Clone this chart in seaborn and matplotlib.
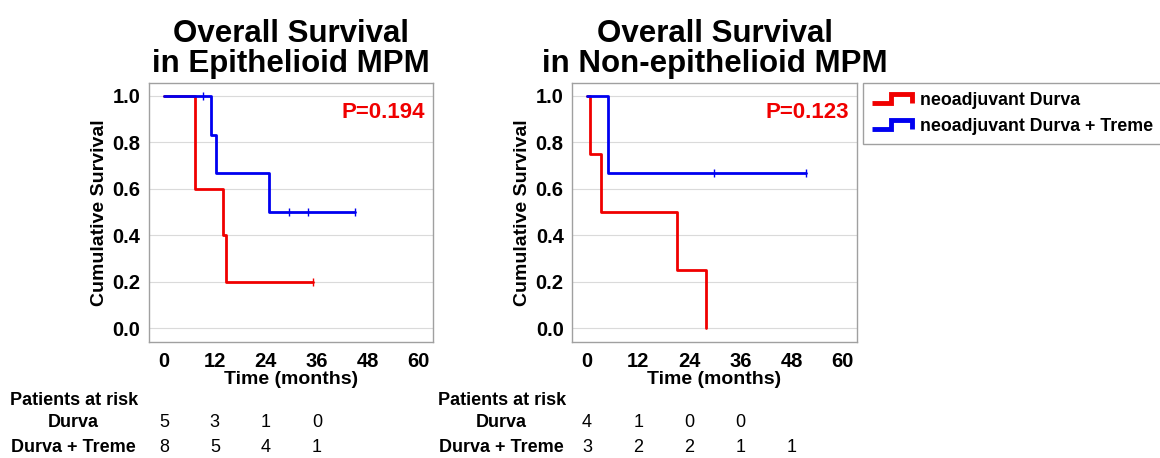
import numpy as np
import matplotlib
matplotlib.use('Agg')
import matplotlib.pyplot as plt
import seaborn as sns
from matplotlib import font_manager
from matplotlib.legend_handler import HandlerBase
from matplotlib.lines import Line2D
from matplotlib.transforms import blended_transform_factory

# Kaplan-Meier steps (time in months, survival)
epi_durva_t = [0, 7.3, 13.9, 14.6, 35.2]
epi_durva_s = [1.0, 0.6, 0.4, 0.2, 0.2]
epi_durva_cens_t = [35.2]
epi_durva_cens_s = [0.2]

epi_combo_t = [0, 11.0, 12.3, 24.7, 44.9]
epi_combo_s = [1.0, 0.833, 0.667, 0.5, 0.5]
epi_combo_cens_t = [9.1, 29.5, 34.0, 44.9]
epi_combo_cens_s = [1.0, 0.5, 0.5, 0.5]

non_durva_t = [0, 0.8, 3.3, 21.2, 27.8]
non_durva_s = [1.0, 0.75, 0.5, 0.25, 0.0]
non_durva_cens_t = []
non_durva_cens_s = []

non_combo_t = [0, 4.9, 51.4]
non_combo_s = [1.0, 0.667, 0.667]
non_combo_cens_t = [29.8, 51.4]
non_combo_cens_s = [0.667, 0.667]

# patients at risk
risk_times = [0, 12, 24, 36, 48]
epi_risk_durva = [5, 3, 1, 0]
epi_risk_combo = [8, 5, 4, 1]
non_risk_durva = [4, 1, 0, 0]
non_risk_combo = [3, 2, 2, 1, 1]

titles = ['Overall Survival\nin Epithelioid MPM', 'Overall Survival\nin Non-epithelioid MPM']
p_values = ['P=0.194', 'P=0.123']
group_labels = ['neoadjuvant Durva', 'neoadjuvant Durva + Treme']
risk_labels = ['Durva', 'Durva + Treme']
xticks = [0, 12, 24, 36, 48, 60]
yticks = [0.0, 0.2, 0.4, 0.6, 0.8, 1.0]

RED = '#f00000'
BLUE = '#0000f0'

sns.set_style('whitegrid', {'axes.edgecolor': '#a0a0a0', 'grid.color': '#dadada'})
plt.rcParams['font.family'] = ['Liberation Sans', 'DejaVu Sans']
plt.rcParams['text.color'] = 'black'
plt.rcParams['axes.labelcolor'] = 'black'
plt.rcParams['xtick.color'] = 'black'
plt.rcParams['ytick.color'] = 'black'
installed = {f.name for f in font_manager.fontManager.ttflist}
narrow = 'Liberation Sans Narrow' if 'Liberation Sans Narrow' in installed else 'Liberation Sans'


class StepHandler(HandlerBase):
    def create_artists(self, legend, orig_handle, xdescent, ydescent,
                       width, height, fontsize, trans):
        xs = np.array([0, 0.47, 0.47, 1.0, 1.0]) * width - xdescent
        ys = np.array([0.15, 0.15, 0.85, 0.85, 0.15]) * height - ydescent
        line = Line2D(xs, ys, color=orig_handle.get_color(), lw=3.5,
                      solid_joinstyle='miter', solid_capstyle='butt')
        line.set_transform(trans)
        return [line]


fig = plt.figure(figsize=(11.6, 4.58), dpi=100)
ax1 = fig.add_axes([0.1284, 0.2533, 0.2448, 0.5655])
ax2 = fig.add_axes([0.4931, 0.2533, 0.2457, 0.5655])

panels = [
    (ax1, [(epi_durva_t, epi_durva_s, epi_durva_cens_t, epi_durva_cens_s, RED),
           (epi_combo_t, epi_combo_s, epi_combo_cens_t, epi_combo_cens_s, BLUE)],
     [epi_risk_durva, epi_risk_combo], 10),
    (ax2, [(non_durva_t, non_durva_s, non_durva_cens_t, non_durva_cens_s, RED),
           (non_combo_t, non_combo_s, non_combo_cens_t, non_combo_cens_s, BLUE)],
     [non_risk_durva, non_risk_combo], 438),
]

for i, (ax, curves, risks, left_px) in enumerate(panels):
    for t, s, ct, cs, col in curves:
        sns.lineplot(x=t, y=s, ax=ax, color=col, lw=2.0, drawstyle='steps-post',
                     estimator=None, sort=False)
        if len(ct):
            sns.scatterplot(x=ct, y=cs, ax=ax, color=col, marker='|', s=28,
                            linewidth=1.0, zorder=4)
    ax.set_xlim(-3.5, 63.3)
    ax.set_ylim(-0.06, 1.055)
    ax.set_xticks(xticks)
    ax.set_yticks(yticks)
    ax.set_yticklabels([f'{v:.1f}' for v in yticks])
    ax.grid(axis='x', visible=False)
    ax.tick_params(axis='both', labelsize=14.5, length=3, color='#a0a0a0', pad=3)
    ax.tick_params(axis='x', pad=4)
    for lab in ax.get_xticklabels() + ax.get_yticklabels():
        lab.set_fontweight('bold')
    ax.set_xlabel('Time (months)', fontsize=14, fontweight='bold', labelpad=0)
    ax.set_ylabel('Cumulative Survival', fontsize=14, fontweight='bold', labelpad=3)
    ax.set_title(titles[i], fontsize=22.5, fontweight='bold', pad=8, linespacing=1.0)
    ax.text(0.973, 0.885, p_values[i], transform=ax.transAxes, color=RED,
            fontsize=16, fontweight='bold', ha='right', va='center')
    for sp in ax.spines.values():
        sp.set_linewidth(1.0)

    # patients at risk table
    fig.text(left_px / 1160, 0.1266, 'Patients at risk', fontsize=13,
             fontweight='bold', ha='left', va='center')
    center_px = left_px + 63
    trans = blended_transform_factory(ax.transData, fig.transFigure)
    for label, counts, ypos in zip(risk_labels, risks, [0.0786, 0.024]):
        fig.text(center_px / 1160, ypos, label, fontsize=13, fontweight='bold',
                 ha='center', va='center')
        for tx, n in zip(risk_times, counts):
            ax.text(tx, ypos, str(n), transform=trans, fontsize=13,
                    family=narrow, ha='center', va='center')

handles = [Line2D([], [], color=RED), Line2D([], [], color=BLUE)]
fig.legend(handles, group_labels, handler_map={Line2D: StepHandler()},
           loc='upper left', bbox_to_anchor=(0.744, 0.819),
           prop={'weight': 'bold', 'size': 12.8}, frameon=True, fancybox=False,
           edgecolor='#a0a0a0', framealpha=1, handlelength=2.25, handleheight=0.7,
           handletextpad=0.45, labelspacing=0.5, borderpad=0.5, borderaxespad=0)

fig.savefig('out.png', dpi=100)
